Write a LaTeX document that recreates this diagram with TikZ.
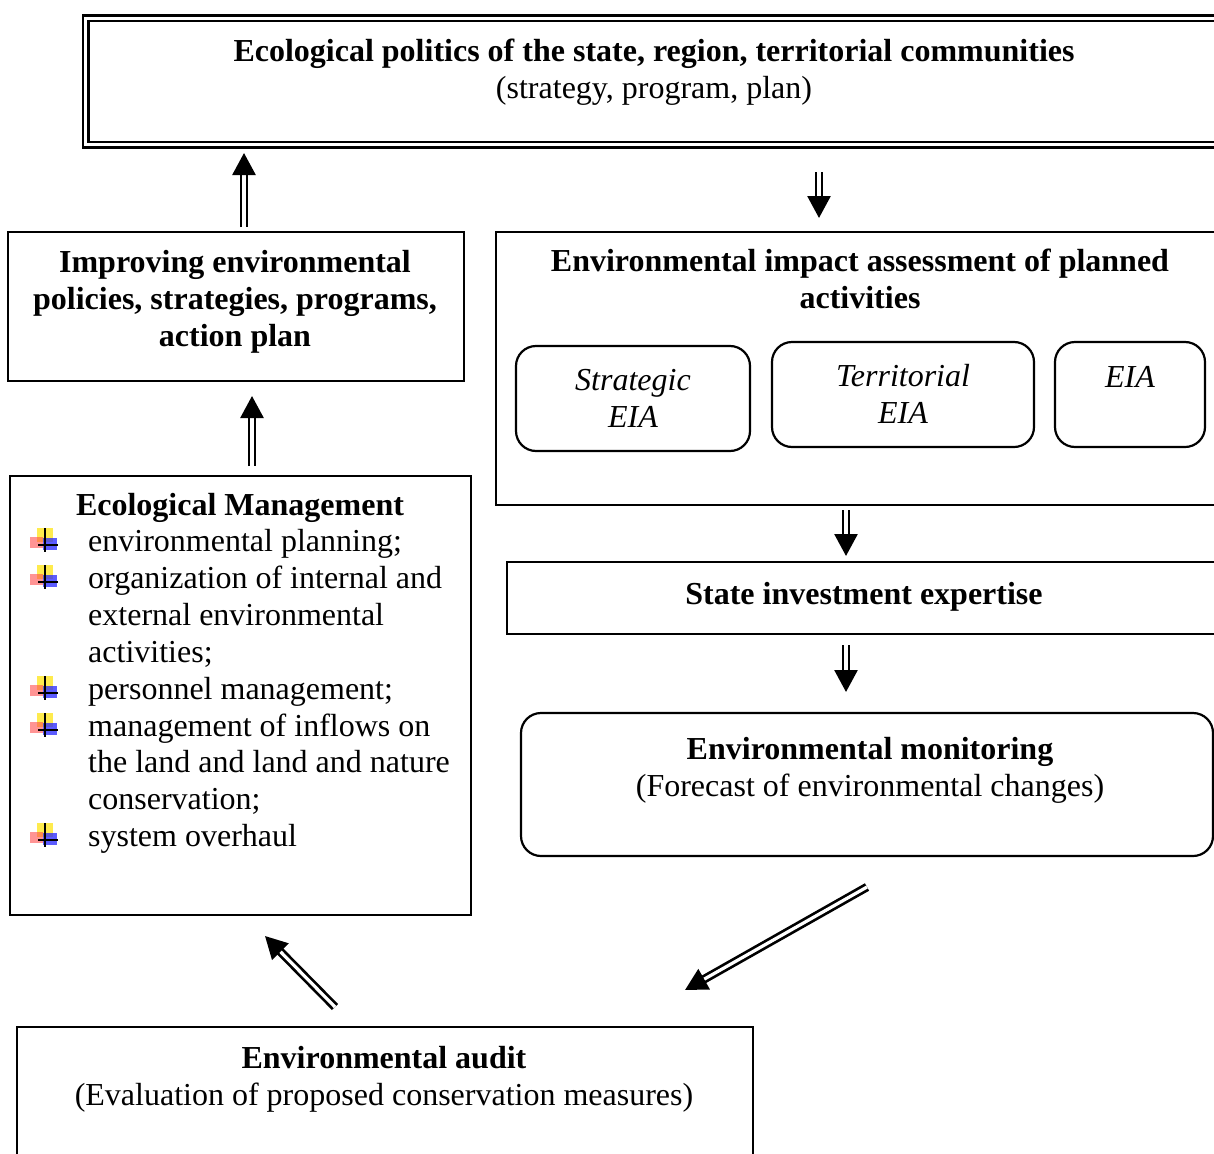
\documentclass[tikz,border=0pt]{standalone}
\usepackage{fontspec}
\setmainfont{Liberation Serif}
\usetikzlibrary{arrows.meta}
\begin{document}
\begin{tikzpicture}[x=1pt,y=-1pt,
  box/.style={draw, line width=2.2pt, inner sep=0pt},
  rbox/.style={box, rounded corners=20pt},
  txt/.style={inner sep=0pt, font=\fontsize{32}{37}\selectfont, align=center, anchor=base},
  ltxt/.style={inner sep=0pt, font=\fontsize{32}{37}\selectfont, anchor=base west},
  dar/.style={double, double distance=3.2pt, line width=2.7pt, -{Triangle[width=23pt,length=22pt]}},
  bul/.pic={
    \fill[yellow!85!orange, opacity=.7] (-8,-17) rectangle (8,-3);
    \fill[red!70, opacity=.6] (-15,-8) rectangle (-2,3);
    \fill[blue!85, opacity=.75] (-2,-7) rectangle (12,5);
    \draw[line width=1.3pt] (0,-17) -- (0,7) (-7,0) -- (13,0);
  }
]
\useasboundingbox (0,0) rectangle (1214,1153);
\clip (0,0) rectangle (1214,1153);

% boxes
\node[box, double, double distance=2.4pt, line width=2.8pt, minimum width=1164.5pt, minimum height=126pt] (top) at (667.75,81.5) {};
\node[box, minimum width=456pt, minimum height=149pt] (imp) at (236,306.5) {};
\node[box, minimum width=754pt, minimum height=273pt] (eia) at (873,368.5) {};
\node[rbox, minimum width=234pt, minimum height=105pt] (strat) at (633,398.5) {};
\node[rbox, minimum width=262pt, minimum height=105pt] (terr) at (903,394.5) {};
\node[rbox, minimum width=150pt, minimum height=105pt] (eiab) at (1130,394.5) {};
\node[box, minimum width=743pt, minimum height=72pt] (state) at (878.5,598) {};
\node[rbox, minimum width=692pt, minimum height=143pt] (mon) at (867,784.5) {};
\node[box, minimum width=461pt, minimum height=439pt] (mgmt) at (240.5,695.5) {};
\node[box, minimum width=736pt, minimum height=223pt] (audit) at (385,1138.5) {};

% texts (anchor base = baseline of the last line)
\node[txt] (topT) at (654,99) {\textbf{Ecological politics of the state, region, territorial communities}\\(strategy, program, plan)};
\node[txt] (impT) at (235,346) {\textbf{Improving environmental}\\\textbf{policies, strategies, programs,}\\\textbf{action plan}};
\node[txt] (eiaT) at (860,308) {\textbf{Environmental impact assessment of planned}\\\textbf{activities}};
\node[txt] (stratT) at (633,427) {\itshape Strategic\\\itshape EIA};
\node[txt] (terrT) at (903,423) {\itshape Territorial\\\itshape EIA};
\node[txt] (eiabT) at (1130,387) {\itshape EIA};
\node[txt] (stateT) at (864,604) {\textbf{State investment expertise}};
\node[txt] (monT) at (870,796) {\textbf{Environmental monitoring}\\(Forecast of environmental changes)};
\node[txt] (auditT) at (384,1105) {\textbf{Environmental audit}\\(Evaluation of proposed conservation measures)};
\node[txt] (mgmtT) at (240,515) {\textbf{Ecological Management}};
\node[ltxt] (m1) at (88,551) {environmental planning;};
\node[ltxt] (m2) at (88,588) {organization of internal and};
\node[ltxt] (m3) at (88,625) {external environmental};
\node[ltxt] (m4) at (88,662) {activities;};
\node[ltxt] (m5) at (88,699) {personnel management;};
\node[ltxt] (m6) at (88,736) {management of inflows on};
\node[ltxt] (m7) at (88,772) {the land and land and nature};
\node[ltxt] (m8) at (88,809) {conservation;};
\node[ltxt] (m9) at (88,846) {system overhaul};

\pic at (45,545) {bul};
\pic at (45,582) {bul};
\pic at (45,693) {bul};
\pic at (45,730) {bul};
\pic at (45,840) {bul};

% arrow end points
\coordinate (a1s) at (244,227); \coordinate (a1e) at (244,153);
\coordinate (a2s) at (819,172); \coordinate (a2e) at (819,218);
\coordinate (a3s) at (846,510); \coordinate (a3e) at (846,556);
\coordinate (a4s) at (846,645); \coordinate (a4e) at (846,692);
\coordinate (a5s) at (252,466); \coordinate (a5e) at (252,396);
\coordinate (a6s) at (867,887); \coordinate (a6e) at (685,990);
\coordinate (a7s) at (335,1007); \coordinate (a7e) at (265,936);

\draw[dar] (a1s) -- (a1e);
\draw[dar] (a2s) -- (a2e);
\draw[dar] (a3s) -- (a3e);
\draw[dar] (a4s) -- (a4e);
\draw[dar] (a5s) -- (a5e);
\draw[dar] (a6s) -- (a6e);
\draw[dar] (a7s) -- (a7e);
\end{tikzpicture}
\end{document}
